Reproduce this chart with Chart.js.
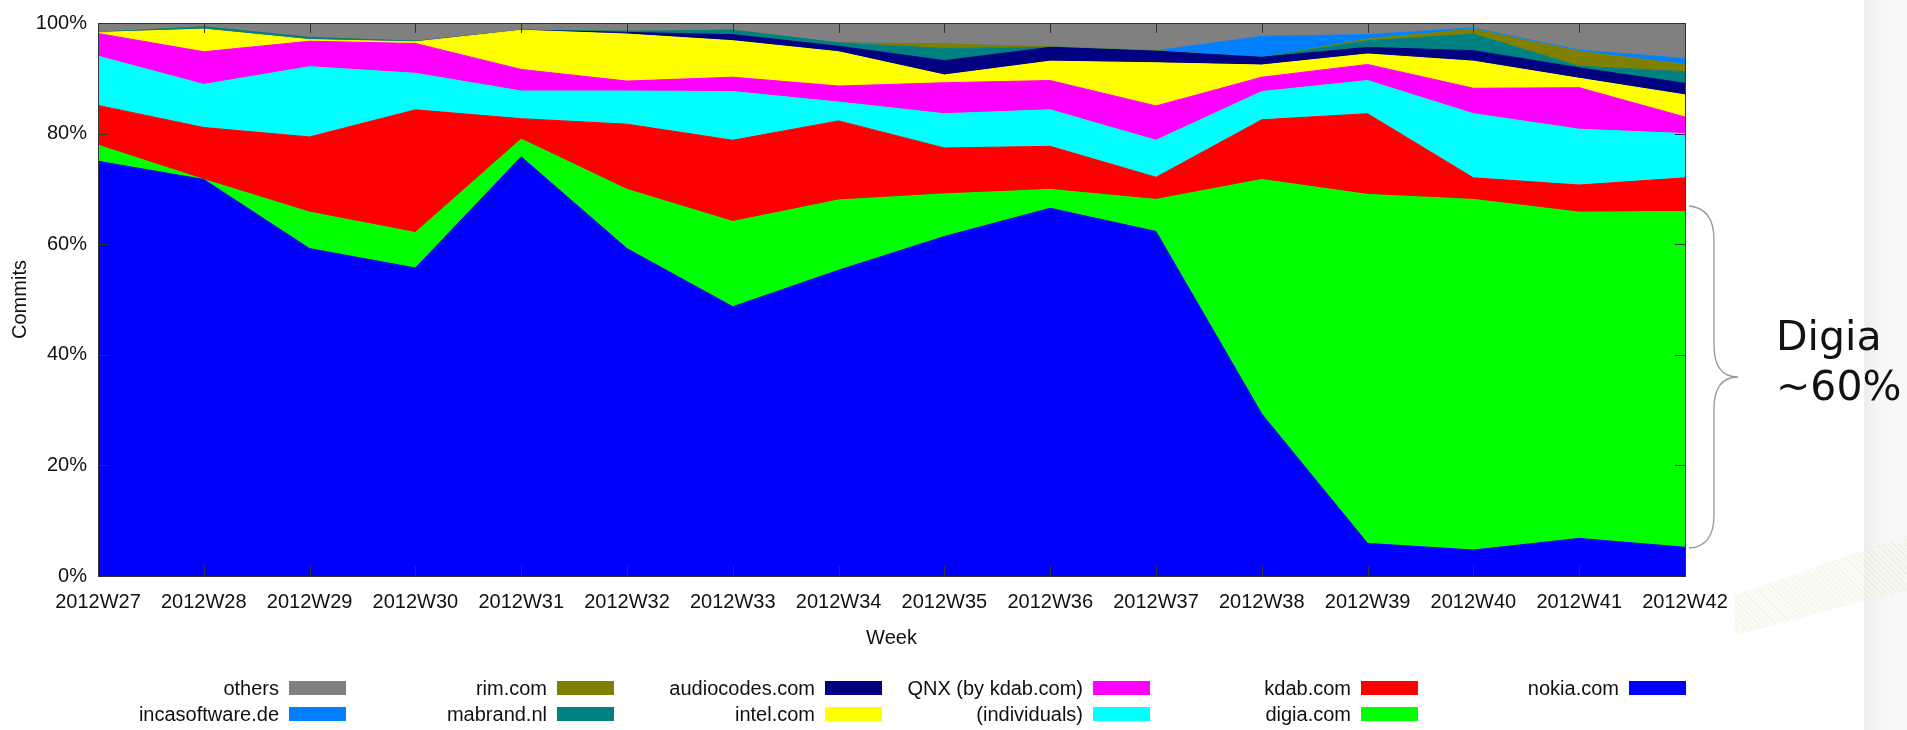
<!DOCTYPE html>
<html>
<head>
<meta charset="utf-8">
<script src="https://cdn.jsdelivr.net/npm/chart.js@4/dist/chart.umd.min.js"></script>
<style>
  html,body{margin:0;padding:0;background:#fff;}
  #wrap{position:relative;width:1907px;height:730px;overflow:hidden;background:#fff;}
  #bgband{position:absolute;left:1864px;top:0;width:43px;height:730px;background:linear-gradient(to right,#ececec,#f6f6f6 30%,#f8f8f8);}
  #stripe{position:absolute;left:1735px;top:535px;width:172px;height:100px;
    clip-path:polygon(0 60%,100% 0,100% 55%,0 100%);
    background:repeating-linear-gradient(45deg,rgba(200,222,160,0.25) 0 1px,rgba(244,248,234,0.5) 1px 4px);}
  canvas{position:absolute;left:0;top:0;}
  #legend{position:absolute;left:78px;top:675px;display:grid;grid-template-columns:repeat(6,268px);
    grid-template-rows:26px 26px;grid-auto-flow:column;font:20px "Liberation Sans",Arial,sans-serif;color:#111;}
  .item{display:flex;justify-content:flex-end;align-items:center;gap:10px;}
  .sw{width:55px;height:12px;border:1px solid;}
  #note{position:absolute;left:1776px;top:311px;font:41px "DejaVu Sans",sans-serif;line-height:50px;color:#111;}
  svg{position:absolute;left:0;top:0;}
</style>
</head>
<body>
<div id="wrap">
  <div id="bgband"></div>
  <div id="stripe"></div>
  <canvas id="chart" width="1907" height="730"></canvas>
  <svg width="1907" height="730"><path d="M1689,206 Q1714,208 1714,240 L1714,345 Q1714,377 1738,377 Q1714,377 1714,409 L1714,515 Q1714,547 1689,548" fill="none" stroke="#999" stroke-width="1.3"/></svg>
  <div id="note">Digia<br>~60%</div>
  <div id="legend"></div>
</div>
<script>
const weeks=["2012W27","2012W28","2012W29","2012W30","2012W31","2012W32","2012W33","2012W34",
  "2012W35","2012W36","2012W37","2012W38","2012W39","2012W40","2012W41","2012W42"];

// share of commits per week (%), stacked bottom to top
const nokia=[75.0,71.7,59.2,55.7,75.8,59.2,48.7,55.3,61.4,66.5,62.3,29.3,5.9,4.7,6.8,5.2];
const digia=[2.9,0,6.6,6.4,3.2,10.7,15.4,12.7,7.7,3.4,5.8,42.4,63.1,63.4,59.0,60.7];
const kdab=[7.2,9.4,13.6,22.2,3.7,11.8,14.7,14.3,8.3,7.8,4.0,10.8,14.6,3.9,4.9,6.1];
const individuals=[8.9,7.8,12.7,6.6,5.0,6.0,8.8,3.4,6.2,6.6,6.7,5.1,6.0,11.6,10.1,8.0];
const qnx=[4.1,5.9,4.6,5.4,3.9,1.8,2.6,2.9,5.6,5.3,6.2,2.6,2.9,4.6,7.5,3.0];
const intel=[0.2,4.1,0.3,0.3,7.1,8.5,6.6,6.2,1.4,3.5,7.8,2.2,1.9,4.9,1.7,4.0];
const audiocodes=[0,0,0,0,0,0.3,1.1,1.0,2.6,2.5,2.1,1.4,1.2,1.9,1.9,2.1];
const mabrand=[0,0.4,0.4,0.1,0,0.2,0.8,0.6,2.2,0,0,0,1.2,3.0,0.3,2.1];
const rim=[0,0,0,0,0,0,0,0,0.8,0.1,0.1,0,0.3,0.9,2.7,1.3];
const incasoftware=[0,0,0,0,0,0,0,0,0,0,0,3.8,0.8,0.2,0.2,1.1];
const others=[1.7,0.7,2.6,3.3,1.3,1.5,1.3,3.6,3.8,4.3,5.0,2.4,2.1,0.9,4.9,6.4];

const yTicks=[0,20,40,60,80,100];

const series=[
  ["nokia.com",nokia,"#0000ff"],
  ["digia.com",digia,"#00ff00"],
  ["kdab.com",kdab,"#ff0000"],
  ["(individuals)",individuals,"#00ffff"],
  ["QNX (by kdab.com)",qnx,"#ff00ff"],
  ["intel.com",intel,"#ffff00"],
  ["audiocodes.com",audiocodes,"#000080"],
  ["mabrand.nl",mabrand,"#008080"],
  ["rim.com",rim,"#808000"],
  ["incasoftware.de",incasoftware,"#0080ff"],
  ["others",others,"#808080"]
];

const font={family:'"Liberation Sans", Arial, sans-serif',size:20};

// gnuplot style frame with inward ticks
const frame={
  id:"frame",
  afterDraw(chart){
    const {ctx,chartArea:a,scales}=chart;
    ctx.save();
    ctx.strokeStyle="#333";
    ctx.lineWidth=1;
    ctx.beginPath();
    scales.x.ticks.forEach((t,i)=>{
      const px=Math.round(scales.x.getPixelForTick(i))+0.5;
      ctx.moveTo(px,a.bottom);ctx.lineTo(px,a.bottom-10);
      ctx.moveTo(px,a.top);ctx.lineTo(px,a.top+10);
    });
    scales.y.ticks.forEach((t,i)=>{
      const py=Math.round(scales.y.getPixelForTick(i))+0.5;
      ctx.moveTo(a.left,py);ctx.lineTo(a.left+10,py);
      ctx.moveTo(a.right,py);ctx.lineTo(a.right-10,py);
    });
    ctx.stroke();
    ctx.strokeRect(Math.round(a.left)+0.5,Math.round(a.top)+0.5,Math.round(a.right-a.left),Math.round(a.bottom-a.top));
    ctx.restore();
  }
};

const chart=new Chart(document.getElementById("chart"),{
  type:"line",
  data:{
    labels:weeks,
    datasets:series.map((s,i)=>({
      label:s[0],
      data:s[1],
      backgroundColor:s[2],
      borderColor:s[2],
      borderWidth:1,
      pointRadius:0,
      tension:0,
      fill:i===0?"origin":"-1"
    }))
  },
  options:{
    responsive:false,
    animation:false,
    devicePixelRatio:1,
    layout:{padding:{left:0,right:222,top:15,bottom:78}},
    plugins:{legend:{display:false},tooltip:{enabled:false}},
    scales:{
      x:{
        z:1,
        offset:false,
        grid:{color:"#000",lineWidth:1,drawTicks:false},
        border:{display:false,dash:[1,3]},
        ticks:{font,color:"#111",padding:14,autoSkip:false,maxRotation:0},
        title:{display:true,text:"Week",font,color:"#111",padding:{top:0,bottom:2}},
        afterFit(s){s.height=76;}
      },
      y:{
        z:1,
        stacked:true,
        min:0,max:100,
        afterBuildTicks(s){s.ticks=yTicks.map(v=>({value:v}));},
        grid:{color:"#000",lineWidth:1,drawTicks:false},
        border:{display:false,dash:[1,3]},
        ticks:{font,color:"#111",padding:11,callback:v=>v+"%"},
        title:{display:true,text:"Commits",font,color:"#111",padding:{top:8,bottom:0}},
        afterFit(s){s.width=98;}
      }
    }
  },
  plugins:[frame]
});

// legend: label left of swatch, column by column, top of the stack first
const legend=document.getElementById("legend");
chart.data.datasets.slice().reverse().forEach(d=>{
  const it=document.createElement("div");
  it.className="item";
  const lab=document.createElement("span");
  lab.textContent=d.label;
  const sw=document.createElement("span");
  sw.className="sw";
  sw.style.background=d.backgroundColor;
  sw.style.borderColor=d.backgroundColor;
  it.appendChild(lab);
  it.appendChild(sw);
  legend.appendChild(it);
});
</script>
</body>
</html>
